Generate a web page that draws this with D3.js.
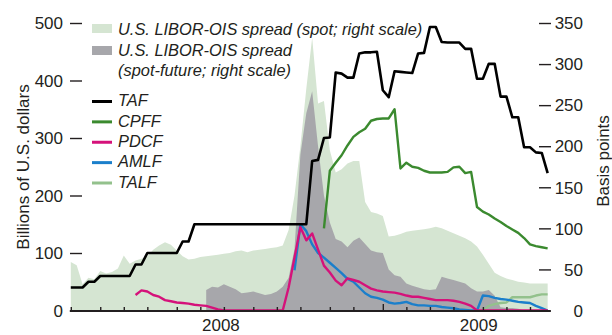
<!DOCTYPE html>
<html>
<head>
<meta charset="utf-8">
<script src="https://cdn.jsdelivr.net/npm/d3@7"></script>
<style>
  html, body { margin: 0; padding: 0; background: #fff; }
  svg { display: block; }
  text { font-family: "Liberation Sans", Arial, Helvetica, sans-serif; fill: #231f20; }
</style>
</head>
<body>
<svg id="chart" width="612" height="335"></svg>
<script>
// Weekly observations; week 0 is the first week of January 2008.
// Facilities are in billions of U.S. dollars (left scale),
// LIBOR-OIS spreads are in basis points (right scale).

const tafStart = 0;
const taf = [40, 40, 40, 50, 50, 60, 60, 60, 60, 60, 60, 80, 80, 100, 100, 100, 100, 100, 100, 120,
  120, 150, 150, 150, 150, 150, 150, 150, 150, 150, 150, 150, 150, 150, 150, 150, 150, 150, 150, 150,
  150, 260, 262, 300, 301, 414, 412, 405, 405, 447, 449, 449, 450, 383, 371, 416, 415, 414, 413, 447,
  448, 493, 493, 467, 466, 466, 466, 455, 455, 403, 403, 429, 429, 372, 372, 336, 336, 284, 284, 275,
  274, 239];

const cpffStart = 43;
const cpff = [143, 243, 257, 270, 287, 302, 310, 316, 330, 333, 334, 334, 350, 247, 257, 250, 248, 243,
  240, 240, 240, 241, 249, 250, 239, 241, 180, 172, 167, 160, 154, 147, 141, 135, 126, 115, 112, 110, 108];

const pdcfStart = 11;
const pdcf = [27, 35, 33, 27, 24, 18, 16, 14, 13, 12, 10, 9, 8, 5, 2,
  0, 0, 0, 0, 0, 0, 0, 0, 0, 0, 0,
  40, 92, 145, 122, 134, 106, 78, 66, 52, 44, 56, 53, 50, 44, 38, 35, 33, 32, 31, 29, 26, 24, 24, 22,
  20, 18, 18, 18, 17, 15, 12, 8,
  0, 0, 0, 0, 0, 0, 0, 0, 0, 0, 0, 0, 0];

const amlfStart = 38;
const amlf = [70, 150, 138, 115, 100, 92, 83, 74, 65, 55, 50, 40, 30, 24, 22, 19, 14, 12, 13, 15, 11, 9,
  9, 8, 8, 6, 5, 4, 2, 1, 0, 0, 26, 25, 22, 20, 19, 17, 15, 14, 13, 8, 4, 0];

const talfStart = 70;
const talf = [0, 8, 11, 13, 14, 23, 23, 23, 23, 26, 28, 28];

const spotStart = 0;
const spotSpread = [59, 55, 32, 40, 38, 48, 45, 47, 51, 67, 57, 61, 63, 66, 74, 79, 83, 80, 73, 66,
  62, 63, 65, 66, 67, 68, 69, 70, 72, 73, 71, 73, 74, 75, 76, 77, 79, 98, 140, 200,
  270, 332, 252, 255, 195, 168, 172, 179, 182, 182, 132, 120, 118, 115, 90, 91, 93, 96, 97, 98,
  99, 100, 102, 100, 97, 94, 91, 88, 84, 78, 68, 57, 46, 42, 39, 37, 35, 34, 33, 33,
  33, 33];

const futureStart = 23;
const spotFutureSpread = [25, 29, 28, 32, 29, 26, 21, 22, 23, 21, 19, 20, 23, 29, 40, 75, 190, 240, 267,
  200, 140, 107, 87, 84, 77, 85, 89, 81, 73, 71, 70, 50, 43, 41, 33, 30, 28, 26, 25, 26, 41, 39, 37,
  35, 33, 27, 23, 23, 25, 18, 4, 3, 3, 2, 0];

// Axis ticks: first week of each month, year boundary, and value ticks
const monthTicks = [0, 5, 9, 13, 18, 22, 26, 31, 35, 39, 44, 48, 57, 61, 65, 70, 74, 78];
const yearTicks = [53];
const yearLabels = ["2008", "2009"];
const yearLabelWeeks = [25.5, 69.3];
const leftTicks = [0, 100, 200, 300, 400, 500];
const rightTicks = [0, 50, 100, 150, 200, 250, 300, 350];

const colors = {
  spot: "#d5e5d2",
  future: "#a7a7ab",
  TAF: "#000000",
  CPFF: "#3b8a2f",
  PDCF: "#d5127a",
  AMLF: "#1b7fcb",
  TALF: "#93c18c",
  ink: "#231f20"
};

const svg = d3.select("#chart");

const x = d3.scaleLinear().domain([0, 81.5]).range([70.8, 550.6]);
const yL = d3.scaleLinear().domain([0, 500]).range([310.5, 23]);
const yR = d3.scaleLinear().domain([0, 350]).range([310.5, 23]);

const toPoints = (values, start) => values.map((v, k) => ({ i: start + k, v }));

// Spread areas (right scale)
const area = d3.area().x(d => x(d.i)).y0(yR(0)).y1(d => yR(d.v));
svg.append("path").datum(toPoints(spotSpread, spotStart))
  .attr("d", area).attr("fill", colors.spot);
svg.append("path").datum(toPoints(spotFutureSpread, futureStart))
  .attr("d", area).attr("fill", colors.future);

// Facility lines (left scale)
const line = d3.line().x(d => x(d.i)).y(d => yL(d.v));
const facilities = [
  { name: "TALF", values: talf, start: talfStart, w: 2.4 },
  { name: "CPFF", values: cpff, start: cpffStart, w: 2.4 },
  { name: "AMLF", values: amlf, start: amlfStart, w: 2.4 },
  { name: "PDCF", values: pdcf, start: pdcfStart, w: 2.4 },
  { name: "TAF", values: taf, start: tafStart, w: 2.6 }
];
facilities.forEach(f => {
  svg.append("path").datum(toPoints(f.values, f.start))
    .attr("d", line)
    .attr("fill", "none")
    .attr("stroke", colors[f.name])
    .attr("stroke-width", f.w)
    .attr("stroke-linejoin", "round");
});

// Bottom axis with upward month ticks
const xAxis = svg.append("g").attr("transform", `translate(0,${yL(0) + 0.5})`)
  .call(d3.axisBottom(x).tickValues(monthTicks).tickSize(-4).tickSizeOuter(0).tickFormat(""));
xAxis.select(".domain").attr("stroke", colors.ink).attr("stroke-width", 2)
  .attr("d", `M${x(0) - 1},0H${x(81.5)}`);
xAxis.selectAll(".tick line").attr("stroke", colors.ink).attr("stroke-width", 1.4);
const xYear = svg.append("g").attr("transform", `translate(0,${yL(0) + 0.5})`)
  .call(d3.axisBottom(x).tickValues(yearTicks).tickSize(-7).tickFormat(""));
xYear.select(".domain").remove();
xYear.selectAll(".tick line").attr("stroke", colors.ink).attr("stroke-width", 1.4);

svg.selectAll("text.year").data(yearLabels).join("text")
  .attr("class", "year")
  .attr("x", (d, k) => x(yearLabelWeeks[k]))
  .attr("y", 331)
  .attr("text-anchor", "middle")
  .attr("font-size", 17)
  .text(d => d);

// Left axis (billions), ticks pointing inward
const left = svg.append("g").attr("transform", "translate(70,0)")
  .call(d3.axisLeft(yL).tickValues(leftTicks).tickSize(-12).tickPadding(7));
left.select(".domain").remove();
left.selectAll(".tick line").attr("stroke", colors.ink).attr("stroke-width", 1.4);
left.selectAll(".tick text").attr("font-size", 17)
  .style("fill", colors.ink).attr("dy", "0.34em");
left.attr("font-family", null).attr("font-size", null);

// Right axis (basis points), ticks pointing inward, labels right-aligned
const right = svg.append("g").attr("transform", "translate(551,0)")
  .call(d3.axisRight(yR).tickValues(rightTicks).tickSize(-12));
right.select(".domain").remove();
right.selectAll(".tick line").attr("stroke", colors.ink).attr("stroke-width", 1.4);
right.selectAll(".tick text").attr("x", 32).attr("text-anchor", "end")
  .attr("font-size", 17).style("fill", colors.ink).attr("dy", "0.34em");
right.attr("font-family", null).attr("font-size", null);

// Axis titles
svg.append("text")
  .attr("transform", "translate(23,167) rotate(-90)")
  .attr("text-anchor", "middle").attr("dy", "0.35em")
  .attr("font-size", 17)
  .text("Billions of U.S. dollars");
svg.append("text")
  .attr("transform", "translate(603,161) rotate(-90)")
  .attr("text-anchor", "middle").attr("dy", "0.35em")
  .attr("font-size", 17)
  .text("Basis points");

// Legend
const legend = svg.append("g").attr("font-size", 16.4).attr("font-style", "italic");
legend.append("rect").attr("x", 92).attr("y", 24).attr("width", 20).attr("height", 9).attr("fill", colors.spot);
legend.append("text").attr("x", 118).attr("y", 29).attr("dy", "0.35em")
  .text("U.S. LIBOR-OIS spread (spot; right scale)");
legend.append("rect").attr("x", 92).attr("y", 46).attr("width", 20).attr("height", 9).attr("fill", colors.future);
legend.append("text").attr("x", 118).attr("y", 50).attr("dy", "0.35em")
  .text("U.S. LIBOR-OIS spread");
legend.append("text").attr("x", 118).attr("y", 70).attr("dy", "0.35em")
  .text("(spot-future; right scale)");

const legendLines = ["TAF", "CPFF", "PDCF", "AMLF", "TALF"];
const legendY = d3.scaleLinear().domain([0, 4]).range([101.5, 183]);
legendLines.forEach((name, k) => {
  legend.append("line")
    .attr("x1", 92).attr("x2", 112)
    .attr("y1", legendY(k)).attr("y2", legendY(k))
    .attr("stroke", colors[name]).attr("stroke-width", 3);
  legend.append("text").attr("x", 118).attr("y", legendY(k) - 1).attr("dy", "0.35em").text(name);
});
</script>
</body>
</html>
